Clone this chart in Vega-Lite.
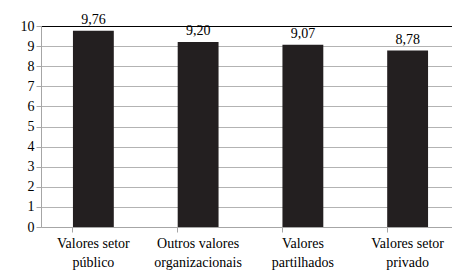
{
  "$schema": "https://vega.github.io/schema/vega-lite/v6.json",
  "autosize": "none",
  "width": 411,
  "height": 201,
  "padding": {"left": 41, "top": 26, "right": 0, "bottom": 49},
  "config": {
    "locale": {"number": {"decimal": ",", "thousands": ".", "grouping": [3], "currency": ["", " €"]}},
    "view": {"stroke": null},
    "font": "'Liberation Serif', 'DejaVu Serif', serif",
    "axis": {"labelFont": "'Liberation Serif', 'DejaVu Serif', serif"},
    "text": {"font": "'Liberation Serif', 'DejaVu Serif', serif"}
  },
  "data": {
    "values": [
      {"categoria": "Valores setor|público", "valor": 9.76},
      {"categoria": "Outros valores|organizacionais", "valor": 9.20},
      {"categoria": "Valores|partilhados", "valor": 9.07},
      {"categoria": "Valores setor|privado", "valor": 8.78}
    ]
  },
  "encoding": {
    "x": {
      "field": "categoria",
      "type": "nominal",
      "sort": null,
      "scale": {"range": [0, 419], "paddingInner": 0.61, "paddingOuter": 0.305},
      "axis": {
        "title": null,
        "labelAngle": 0,
        "labelExpr": "split(datum.value, '|')",
        "labelFontSize": 14,
        "labelColor": "#000000",
        "labelLineHeight": 19,
        "labelPadding": 4,
        "labelBaseline": "top",
        "domainColor": "#a6a6a6",
        "tickColor": "#a6a6a6",
        "tickSize": 5,
        "bandPosition": 0
      }
    },
    "y": {
      "field": "valor",
      "type": "quantitative",
      "scale": {"domain": [0, 10], "nice": false},
      "axis": {
        "title": null,
        "values": [0, 1, 2, 3, 4, 5, 6, 7, 8, 9, 10],
        "format": "d",
        "labelFontSize": 14,
        "labelColor": "#000000",
        "labelPadding": 2,
        "tickSize": 5,
        "tickColor": "#a6a6a6",
        "domainColor": "#a6a6a6",
        "gridColor": {"condition": {"test": "datum.value === 10", "value": "#000000"}, "value": "#b3b3b3"},
        "gridWidth": 1
      }
    }
  },
  "layer": [
    {"mark": {"type": "bar", "color": "#231f20"}},
    {
      "mark": {"type": "text", "baseline": "bottom", "dy": -4, "fontSize": 14, "color": "#000000"},
      "encoding": {"text": {"field": "valor", "type": "quantitative", "format": ".2f"}}
    }
  ]
}
